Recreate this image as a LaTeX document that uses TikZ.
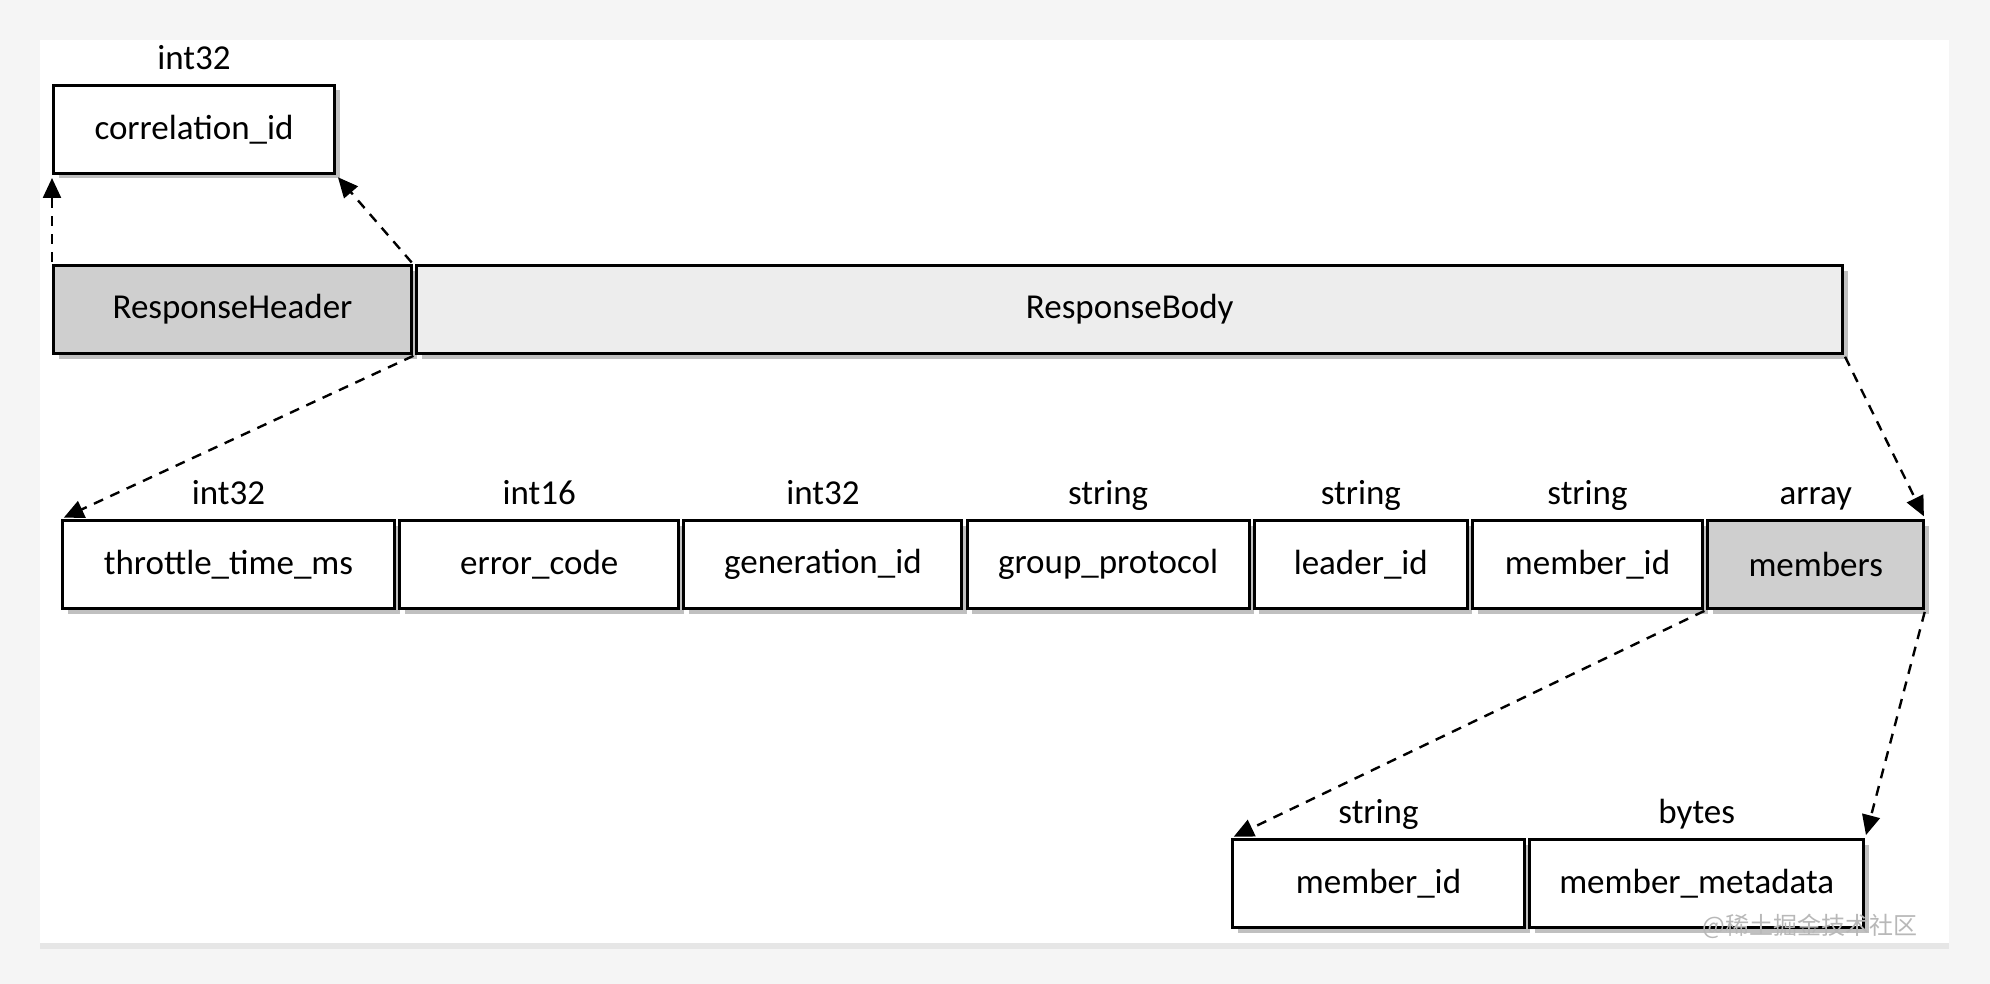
\documentclass[tikz,border=0pt]{standalone}
\usepackage{fontspec}
\setmainfont{Carlito}
\newfontfamily\cjk{Noto Sans CJK SC}
\usetikzlibrary{shapes,arrows.meta,positioning,shadows}

\begin{document}
\begin{tikzpicture}[x=0.5pt, y=-0.5pt, node distance=1.1pt]
    \tikzset{
        n/.style        =   { rectangle
                            , draw=black
                            , line width=1.5pt
                            , fill=white
                            , text centered
                            , inner sep=0pt
                            , minimum height=44pt
                            , font=\fontsize{17.5}{20}\selectfont
                            , drop shadow={shadow xshift=2.5pt, shadow yshift=-2.5pt, opacity=0.35, fill=black!70}
        }
        , dark/.style   =   { fill=black!19 }
        , light/.style  =   { fill=black!7 }
        , t/.style      =   { inner sep=0pt
                            , text depth=0pt
                            , font=\fontsize{17.5}{20}\selectfont
        }
        , arrow/.style  =   { line width=1.2pt
                            , dash pattern=on 5pt off 4pt
                            , shorten >= 1.5pt
                            , shorten <= 1pt
                            , -{Triangle[length=10pt,width=9pt]}
        }
    }
    \useasboundingbox (0,0) rectangle (1990,984);
    \fill[black!4] (0,0) rectangle (1990,984);
    \fill[white, drop shadow={shadow xshift=0pt, shadow yshift=-3pt, opacity=0.12}] (40,40) rectangle (1949,943);

    % header part
    \node(corr)[n, minimum width=140.5pt, anchor=north west] at (52,84) {correlation\_id};
    \node(corrT)[t, above=7pt of corr] {int32};
    \node(hdr)[n, dark, minimum width=179pt, anchor=north west] at (52,264) {ResponseHeader};
    \node(body)[n, light, minimum width=713pt, right=of hdr] {ResponseBody};

    % body fields
    \node(thr)[n, minimum width=166pt, anchor=north west] at (61,519) {throttle\_time\_ms};
    \node(err)[n, minimum width=139.5pt, right=of thr] {error\_code};
    \node(gen)[n, minimum width=139pt, right=of err] {generation\_id};
    \node(grp)[n, minimum width=141pt, right=of gen] {group\_protocol};
    \node(lead)[n, minimum width=106.5pt, right=of grp] {leader\_id};
    \node(mid)[n, minimum width=115pt, right=of lead] {member\_id};
    \node(mem)[n, dark, minimum width=108pt, right=of mid] {members};

    \node(thrT)[t, above=7pt of thr] {int32};
    \node(errT)[t, above=7pt of err] {int16};
    \node(genT)[t, above=7pt of gen] {int32};
    \node(grpT)[t, above=7pt of grp] {string};
    \node(leadT)[t, above=7pt of lead] {string};
    \node(midT)[t, above=7pt of mid] {string};
    \node(memT)[t, above=7pt of mem] {array};

    % array element
    \node(eid)[n, minimum width=146pt, anchor=north west] at (1231,838) {member\_id};
    \node(meta)[n, minimum width=167pt, right=of eid] {member\_metadata};
    \node(eidT)[t, above=7pt of eid] {string};
    \node(metaT)[t, above=7pt of meta] {bytes};

    \node(mark)[font=\cjk\fontsize{12}{14}\selectfont, text=black!28] at (1810,926) {@稀土掘金技术社区};

    \draw[arrow] (hdr.north west) -- (corr.south west);
    \draw[arrow] (hdr.north east) -- (corr.south east);
    \draw[arrow] (body.south west) -- (thr.north west);
    \draw[arrow] (body.south east) -- (mem.north east);
    \draw[arrow] (mem.south west) -- (eid.north west);
    \draw[arrow] (mem.south east) -- (meta.north east);
\end{tikzpicture}
\end{document}
